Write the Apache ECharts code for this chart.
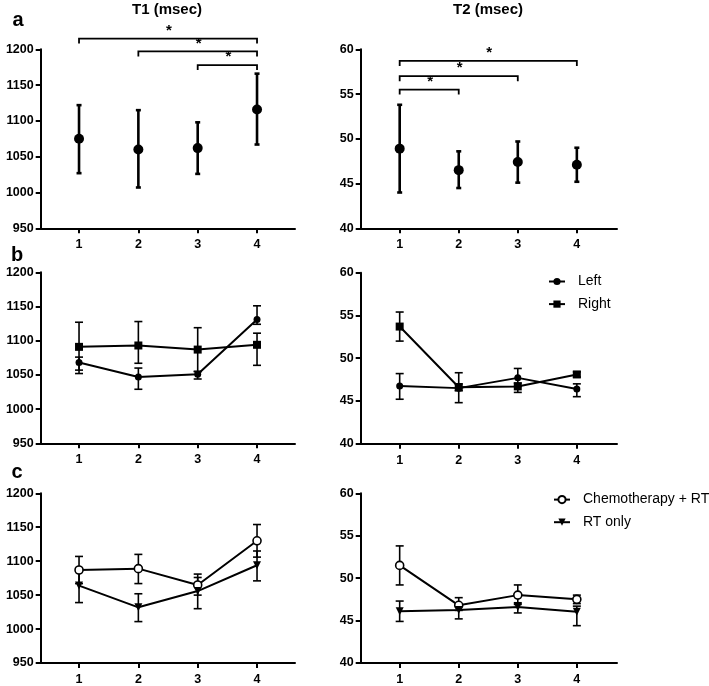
<!DOCTYPE html>
<html><head><meta charset="utf-8">
<script src="https://cdn.jsdelivr.net/npm/echarts@6/dist/echarts.min.js"></script>
<style>html,body{margin:0;padding:0;background:#fff}#c{width:709px;height:686px}</style>
</head><body><div id="c"></div>
<script>
// ---- data ----
const xVals = [1, 2, 3, 4];
const t1Ticks = [950, 1000, 1050, 1100, 1150, 1200];
const t2Ticks = [40, 45, 50, 55, 60];

// panel a (all)
const t1Mean = [1075, 1060, 1062, 1116];
const t1Low  = [1027, 1007, 1026, 1067];
const t1High = [1122, 1115, 1098, 1166];
const t2Mean = [48.9, 46.5, 47.4, 47.1];
const t2Low  = [44.0, 44.5, 45.1, 45.2];
const t2High = [53.8, 48.6, 49.7, 49.0];
// significance brackets: [from, to, level]
const t1Sig = [[1, 4, 1215], [2, 4, 1197], [3, 4, 1178]];
const t2Sig = [[1, 4, 58.7], [1, 3, 57.0], [1, 2, 55.5]];

// panel b (side)
const t1LeftMean  = [1068, 1047, 1051, 1131];
const t1LeftLow   = [1052, 1029, 1044, 1124];
const t1LeftHigh  = [1076, 1060, 1055, 1151];
const t1RightMean = [1091, 1093, 1087, 1094];
const t1RightLow  = [1057, 1067, 1055, 1064];
const t1RightHigh = [1127, 1128, 1119, 1111];
const t2LeftMean  = [46.75, 46.5, 47.7, 46.4];
const t2LeftLow   = [45.2, 44.8, 46.7, 45.5];
const t2LeftHigh  = [48.2, 48.3, 48.8, 47.0];
const t2RightMean = [53.7, 46.6, 46.7, 48.1];
const t2RightLow  = [52.0, 46.2, 46.0, 47.8];
const t2RightHigh = [55.4, 47.0, 47.1, 48.4];

// panel c (treatment)
const t1ChemoMean = [1087, 1089, 1065, 1130];
const t1ChemoLow  = [1067, 1067, 1050, 1106];
const t1ChemoHigh = [1107, 1110, 1081, 1154];
const t1RtMean    = [1064, 1032, 1056, 1094];
const t1RtLow     = [1039, 1011, 1030, 1071];
const t1RtHigh    = [1088, 1052, 1076, 1115];
const t2ChemoMean = [51.5, 46.8, 48.0, 47.5];
const t2ChemoLow  = [49.2, 46.2, 46.9, 47.0];
const t2ChemoHigh = [53.8, 47.7, 49.2, 48.0];
const t2RtMean    = [46.1, 46.25, 46.6, 46.05];
const t2RtLow     = [44.9, 45.2, 45.9, 44.4];
const t2RtHigh    = [47.3, 46.8, 47.1, 46.7];

const titles = ['T1 (msec)', 'T2 (msec)'];
const panelLetters = ['a', 'b', 'c'];
const legendB = ['Left', 'Right'];
const legendC = ['Chemotherapy + RT', 'RT only'];

// ---- chart ----
const FONT = 'Liberation Sans, Arial, Helvetica, sans-serif';
const chart = echarts.init(document.getElementById('c'), null, {renderer: 'canvas'});

const grids = [
  {left: 40.7, top: 49.3, width: 254.3, height: 179},
  {left: 360.7, top: 49.3, width: 256.3, height: 179},
  {left: 40.7, top: 272.3, width: 254.3, height: 171},
  {left: 360.7, top: 272.7, width: 256.3, height: 171},
  {left: 40.7, top: 493.3, width: 254.3, height: 170},
  {left: 360.7, top: 493.3, width: 256.3, height: 170.5}
];

const axisLineStyle = {color: '#000', width: 2};
const labelStyle = {color: '#000', fontWeight: 'bold', fontSize: 12.5, fontFamily: FONT, formatter: v => String(v)};

const xAxes = grids.map((g, i) => {
  const isLeft = i % 2 === 0;
  return {
    type: 'value', gridIndex: i,
    min: isLeft ? 0.354 : 0.34, max: isLeft ? 4.64 : 4.68,
    axisLine: {show: true, onZero: false, lineStyle: axisLineStyle},
    axisTick: {show: true, length: 5, customValues: xVals, lineStyle: axisLineStyle},
    axisLabel: Object.assign({customValues: xVals, margin: 10}, labelStyle),
    splitLine: {show: false}
  };
});
const yAxes = grids.map((g, i) => {
  const isLeft = i % 2 === 0;
  return {
    type: 'value', gridIndex: i,
    min: isLeft ? t1Ticks[0] : t2Ticks[0],
    max: isLeft ? t1Ticks[t1Ticks.length - 1] : t2Ticks[t2Ticks.length - 1],
    interval: isLeft ? 50 : 5,
    axisLine: {show: true, onZero: false, lineStyle: axisLineStyle},
    axisTick: {show: true, length: 5, lineStyle: axisLineStyle},
    axisLabel: Object.assign({margin: 7}, labelStyle),
    splitLine: {show: false}
  };
});

function pts(means) { return xVals.map((x, i) => [x, means[i]]); }

function errSeries(idx, lo, hi, capW, lw) {
  return {
    type: 'custom', xAxisIndex: idx, yAxisIndex: idx, silent: true, z: 2,
    data: xVals.map((x, i) => [x, lo[i], hi[i]]),
    encode: {x: 0, y: [1, 2]},
    renderItem: function (params, api) {
      const x = api.value(0);
      const a = api.coord([x, api.value(1)]);
      const b = api.coord([x, api.value(2)]);
      const st = {stroke: '#000', lineWidth: lw};
      return {type: 'group', children: [
        {type: 'line', shape: {x1: a[0], y1: a[1], x2: b[0], y2: b[1]}, style: st},
        {type: 'line', shape: {x1: a[0] - capW, y1: a[1], x2: a[0] + capW, y2: a[1]}, style: st},
        {type: 'line', shape: {x1: b[0] - capW, y1: b[1], x2: b[0] + capW, y2: b[1]}, style: st}
      ]};
    }
  };
}

function sigSeries(idx, pairs) {
  return {
    type: 'custom', xAxisIndex: idx, yAxisIndex: idx, silent: true, clip: false, z: 2,
    data: pairs,
    encode: {x: [0, 1], y: 2},
    renderItem: function (params, api) {
      const p1 = api.coord([api.value(0), api.value(2)]);
      const p2 = api.coord([api.value(1), api.value(2)]);
      const st = {stroke: '#000', lineWidth: 1.8};
      return {type: 'group', children: [
        {type: 'polyline', shape: {points: [[p1[0], p1[1] + 5], [p1[0], p1[1]], [p2[0], p2[1]], [p2[0], p2[1] + 5]]}, style: Object.assign({fill: null}, st)},
        {type: 'text', x: (p1[0] + p2[0]) / 2 + 1, y: p1[1] - 8,
         style: {text: '*', font: 'bold 15px ' + FONT, fill: '#000', align: 'center', verticalAlign: 'middle'}}
      ]};
    }
  };
}

function lineSeries(idx, name, means, symbol, size, extra) {
  return Object.assign({
    type: 'line', name: name, xAxisIndex: idx, yAxisIndex: idx, z: 3,
    data: pts(means), symbol: symbol, symbolSize: size, showSymbol: true,
    lineStyle: {color: '#000', width: 2},
    itemStyle: {color: '#000', opacity: 1},
    animation: false
  }, extra || {});
}

const hollow = {itemStyle: {color: '#fff', borderColor: '#000', borderWidth: 1.6, opacity: 1}};

const series = [
  // panel a
  errSeries(0, t1Low, t1High, 2.5, 2.6),
  errSeries(1, t2Low, t2High, 2.5, 2.6),
  sigSeries(0, t1Sig),
  sigSeries(1, t2Sig),
  {type: 'scatter', name: 'T1', xAxisIndex: 0, yAxisIndex: 0, data: pts(t1Mean), symbol: 'circle', symbolSize: 10, itemStyle: {color: '#000', opacity: 1}, z: 3},
  {type: 'scatter', name: 'T2', xAxisIndex: 1, yAxisIndex: 1, data: pts(t2Mean), symbol: 'circle', symbolSize: 10, itemStyle: {color: '#000', opacity: 1}, z: 3},
  // panel b
  errSeries(2, t1LeftLow, t1LeftHigh, 4, 1.6),
  errSeries(2, t1RightLow, t1RightHigh, 4, 1.6),
  errSeries(3, t2LeftLow, t2LeftHigh, 4, 1.6),
  errSeries(3, t2RightLow, t2RightHigh, 4, 1.6),
  lineSeries(2, 'Left', t1LeftMean, 'circle', 7),
  lineSeries(2, 'Right', t1RightMean, 'rect', 8),
  lineSeries(3, 'Left', t2LeftMean, 'circle', 7),
  lineSeries(3, 'Right', t2RightMean, 'rect', 8),
  // panel c
  errSeries(4, t1ChemoLow, t1ChemoHigh, 4, 1.6),
  errSeries(4, t1RtLow, t1RtHigh, 4, 1.6),
  errSeries(5, t2ChemoLow, t2ChemoHigh, 4, 1.6),
  errSeries(5, t2RtLow, t2RtHigh, 4, 1.6),
  lineSeries(4, 'Chemotherapy + RT', t1ChemoMean, 'circle', 8, hollow),
  lineSeries(4, 'RT only', t1RtMean, 'triangle', 8, {symbolRotate: 180}),
  lineSeries(5, 'Chemotherapy + RT', t2ChemoMean, 'circle', 8, hollow),
  lineSeries(5, 'RT only', t2RtMean, 'triangle', 8, {symbolRotate: 180})
];

const legendText = {fontSize: 14, color: '#000', fontFamily: FONT, padding: [0, 0, 0, 8]};
const option = {
  backgroundColor: '#fff',
  animation: false,
  grid: grids,
  xAxis: xAxes,
  yAxis: yAxes,
  legend: [
    {data: legendB, orient: 'vertical', left: 548, top: 274.5, padding: 0, itemWidth: 16, itemHeight: 9, itemGap: 8.6, selectedMode: false, textStyle: legendText},
    {data: legendC, orient: 'vertical', left: 553, top: 492.6, padding: 0, itemWidth: 16, itemHeight: 9, itemGap: 8.6, selectedMode: false, textStyle: legendText}
  ],
  graphic: [
    {type: 'text', x: 167, y: 10, style: {text: titles[0], font: 'bold 15px ' + FONT, fill: '#000', align: 'center', verticalAlign: 'middle'}},
    {type: 'text', x: 488, y: 10, style: {text: titles[1], font: 'bold 15px ' + FONT, fill: '#000', align: 'center', verticalAlign: 'middle'}},
    {type: 'text', x: 18, y: 20, style: {text: panelLetters[0], font: 'bold 20px ' + FONT, fill: '#000', align: 'center', verticalAlign: 'middle'}},
    {type: 'text', x: 17, y: 255, style: {text: panelLetters[1], font: 'bold 20px ' + FONT, fill: '#000', align: 'center', verticalAlign: 'middle'}},
    {type: 'text', x: 17, y: 472, style: {text: panelLetters[2], font: 'bold 20px ' + FONT, fill: '#000', align: 'center', verticalAlign: 'middle'}}
  ],
  series: series
};
chart.setOption(option);
</script></body></html>
